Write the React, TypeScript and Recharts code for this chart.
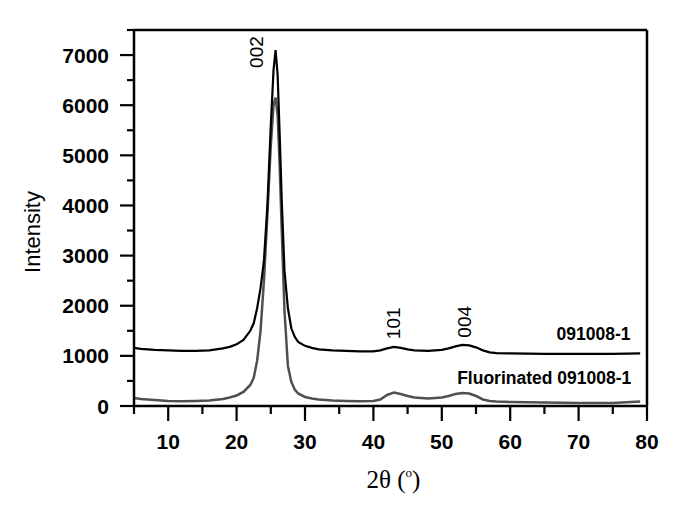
import { LineChart, Line, XAxis, YAxis, ReferenceLine, ReferenceDot, Label } from 'recharts';

// 2-theta positions (deg) and intensities
const twoTheta = [5, 6, 8, 10, 12, 14, 16, 18, 19, 20, 21, 22, 22.5, 23, 23.5, 24, 24.5, 25, 25.4, 25.7, 26, 26.3, 26.6, 27, 27.5, 28, 28.5, 29, 30, 31, 32, 34, 36, 38, 40, 41, 42, 43, 44, 45, 46, 48, 50, 51, 52, 53, 54, 55, 56, 57, 58, 60, 65, 70, 75, 79];
const raw = [1160, 1140, 1120, 1110, 1100, 1100, 1110, 1150, 1180, 1230, 1320, 1500, 1650, 1950, 2350, 2900, 4000, 5600, 6700, 7100, 6600, 5400, 4100, 2700, 1950, 1550, 1380, 1280, 1200, 1160, 1130, 1110, 1100, 1090, 1090, 1110, 1150, 1180, 1160, 1130, 1110, 1100, 1120, 1150, 1190, 1220, 1210, 1170, 1110, 1070, 1055, 1050, 1040, 1040, 1040, 1050];
const fluorinated = [160, 140, 120, 100, 95, 100, 110, 140, 170, 210, 280, 420, 560, 900, 1500, 2500, 3800, 5200, 6000, 6150, 5800, 4800, 3500, 1900, 800, 480, 330, 250, 180, 150, 130, 110, 100, 95, 100, 130, 220, 270, 240, 200, 170, 150, 170, 200, 240, 260, 250, 200, 130, 100, 90, 80, 70, 60, 60, 90];

const xTicks = [5, 10, 15, 20, 25, 30, 35, 40, 45, 50, 55, 60, 65, 70, 75, 80];
const yTicks = [0, 500, 1000, 1500, 2000, 2500, 3000, 3500, 4000, 4500, 5000, 5500, 6000, 6500, 7000, 7500];

const peaks = [
  { label: '002', x: 22.9, y: 7060 },
  { label: '101', x: 42.9, y: 1650 },
  { label: '004', x: 53.3, y: 1680 },
];
const seriesNames = [
  { label: '091008-1', x: 77.6, y: 1434 },
  { label: 'Fluorinated 091008-1', x: 77.7, y: 558 },
];

const data = twoTheta.map((t, i) => ({ x: t, raw: raw[i], fluor: fluorinated[i] }));

const sans = '"Liberation Sans", Arial, sans-serif';

const XTick = (props: any) => {
  const { x, y, payload } = props;
  const major = payload.value % 10 === 0;
  return (
    <g>
      <line x1={x} x2={x} y1={y} y2={y + (major ? 15 : 8)} stroke="#000" strokeWidth={2.2} />
      {major && (
        <text x={x} y={y + 43} textAnchor="middle" fontSize={21} fontWeight="bold" fontFamily={sans} fill="#000">
          {payload.value}
        </text>
      )}
    </g>
  );
};

const YTick = (props: any) => {
  const { x, y, payload } = props;
  const major = payload.value % 1000 === 0;
  return (
    <g>
      <line x1={x - (major ? 14 : 7)} x2={x} y1={y} y2={y} stroke="#000" strokeWidth={2.2} />
      {major && (
        <text x={x - 25} y={y} dy="0.36em" textAnchor="end" fontSize={21} fontWeight="bold" fontFamily={sans} fill="#000">
          {payload.value}
        </text>
      )}
    </g>
  );
};

const rotatedText = (text: string) => (props: any) => {
  const vb = props.viewBox;
  const cx = vb.x + vb.width / 2;
  const cy = vb.y + vb.height / 2;
  return (
    <text x={cx} y={cy} dy="0.36em" textAnchor="middle" transform={`rotate(-90 ${cx} ${cy})`} fontSize={19} fontFamily={sans} fill="#000">
      {text}
    </text>
  );
};

const endText = (text: string) => (props: any) => {
  const vb = props.viewBox;
  const cx = vb.x + vb.width / 2;
  const cy = vb.y + vb.height / 2;
  return (
    <text x={cx} y={cy} dy="0.36em" textAnchor="end" fontSize={17.5} fontWeight="bold" fontFamily={sans} fill="#000">
      {text}
    </text>
  );
};

const App = () => {
  return (
    <LineChart width={659} height={490} data={data} margin={{ top: 22, right: 20, bottom: 0, left: 0 }}>
      <XAxis
        dataKey="x"
        type="number"
        domain={[5, 80]}
        ticks={xTicks}
        interval={0}
        tickSize={0}
        tickMargin={0}
        tick={<XTick />}
        height={92}
        stroke="#000"
        strokeWidth={2.5}
        allowDataOverflow
      >
        <Label
          content={(p: any) => {
            const vb = p.viewBox;
            const cx = vb.x + vb.width / 2 + 3;
            return (
              <text x={cx} y={vb.y + 82} textAnchor="middle" fontFamily='"Liberation Serif", "Times New Roman", serif' fontSize={25} fill="#000">
                <tspan>2θ (</tspan>
                <tspan fontSize={13} dy={-11}>o</tspan>
                <tspan dy={11}>)</tspan>
              </text>
            );
          }}
        />
      </XAxis>
      <YAxis
        type="number"
        domain={[0, 7500]}
        ticks={yTicks}
        interval={0}
        tickSize={0}
        tickMargin={0}
        tick={<YTick />}
        width={126}
        stroke="#000"
        strokeWidth={2.5}
        allowDataOverflow
      >
        <Label
          content={(p: any) => {
            const vb = p.viewBox;
            const cx = vb.x + 24;
            const cy = vb.y + vb.height / 2 + 14;
            return (
              <text x={cx} y={cy} dy="0.36em" textAnchor="middle" transform={`rotate(-90 ${cx} ${cy})`} fontFamily={sans} fontSize={22} fill="#000">
                Intensity
              </text>
            );
          }}
        />
      </YAxis>
      <ReferenceLine y={7500} stroke="#000" strokeWidth={2.5} />
      <ReferenceLine x={80} stroke="#000" strokeWidth={2.5} />
      <Line type="linear" dataKey="fluor" stroke="#505050" strokeWidth={2.5} dot={false} isAnimationActive={false} />
      <Line type="linear" dataKey="raw" stroke="#000000" strokeWidth={2.2} dot={false} isAnimationActive={false} />
      {peaks.map((p) => (
        <ReferenceDot key={p.label} x={p.x} y={p.y} r={1} fill="none" stroke="none" label={{ content: rotatedText(p.label) }} />
      ))}
      {seriesNames.map((s) => (
        <ReferenceDot key={s.label} x={s.x} y={s.y} r={1} fill="none" stroke="none" label={{ content: endText(s.label) }} />
      ))}
    </LineChart>
  );
};

export default App;
